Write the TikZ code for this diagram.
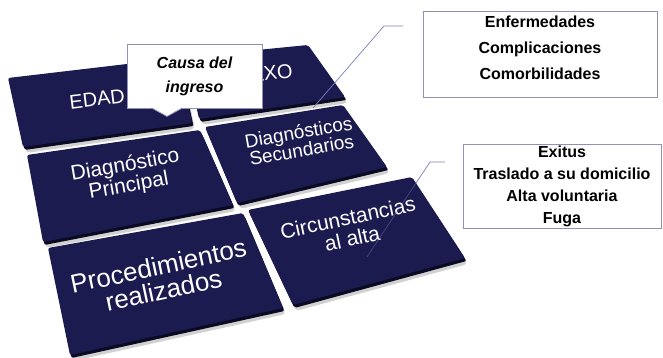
\documentclass[tikz,border=0pt]{standalone}
\usepackage{fontspec}
\setmainfont{Liberation Sans}
\usepackage{tikz}
\usetikzlibrary{calc,positioning}
\definecolor{tilenavy}{RGB}{27,27,80}
\definecolor{tileedge}{RGB}{10,10,34}
\definecolor{pointline}{RGB}{125,125,190}
\definecolor{boxline}{RGB}{145,145,180}

\begin{document}
\begin{tikzpicture}[x=1pt,y=-1pt,
    tile/.style={fill=tilenavy,rounded corners=2pt},
    tileside/.style={fill=tileedge,rounded corners=2pt},
    tileshadow/.style={fill=black,opacity=0.18,rounded corners=4pt},
    tiletext/.style={text=white,align=center,inner sep=0pt},
    infobox/.style={draw=boxline,line width=0.8pt,fill=white,inner sep=0pt},
    infotext/.style={align=center,inner sep=0pt,font=\bfseries\fontsize{16}{26}\selectfont},
    pointer/.style={draw=pointline,line width=0.7pt}]
  \useasboundingbox (0,0) rectangle (663,358);

  \coordinate (t1-a) at (8,78);    \coordinate (t1-b) at (178,58);
  \coordinate (t1-c) at (192,123); \coordinate (t1-d) at (23,147);
  \coordinate (t2-a) at (186,57);  \coordinate (t2-b) at (308,45);
  \coordinate (t2-c) at (345,97);  \coordinate (t2-d) at (199,119);
  \coordinate (t3-a) at (27,155);  \coordinate (t3-b) at (200,130);
  \coordinate (t3-c) at (233,205); \coordinate (t3-d) at (43,242);
  \coordinate (t4-a) at (205,127); \coordinate (t4-b) at (343,105);
  \coordinate (t4-c) at (387,167); \coordinate (t4-d) at (237,203);
  \coordinate (t5-a) at (48,248);  \coordinate (t5-b) at (243,213);
  \coordinate (t5-c) at (283,308); \coordinate (t5-d) at (70,355);
  \coordinate (t6-a) at (248,210); \coordinate (t6-b) at (412,177);
  \coordinate (t6-c) at (465,258); \coordinate (t6-d) at (293,305);

  \foreach \t in {1,...,6} {
    \fill[tileshadow] ([shift={(3,6)}]t\t-a) -- ([shift={(3,6)}]t\t-b) -- ([shift={(3,6)}]t\t-c) -- ([shift={(3,6)}]t\t-d) -- cycle;
    \fill[tileside] ([shift={(1.5,3)}]t\t-a) -- ([shift={(1.5,3)}]t\t-b) -- ([shift={(1.5,3)}]t\t-c) -- ([shift={(1.5,3)}]t\t-d) -- cycle;
    \fill[tile] (t\t-a) -- (t\t-b) -- (t\t-c) -- (t\t-d) -- cycle;
  }

  \node[tiletext,rotate=7,font=\fontsize{20}{20}\selectfont] (edad) at (97,99) {EDAD};
  \node[tiletext,rotate=7,font=\fontsize{20}{20}\selectfont] (sexo) at (265,74) {SEXO};
  \node[tiletext,rotate=10,font=\fontsize{21}{21}\selectfont] (diagp) at (127,176) {Diagnóstico\\Principal};
  \node[tiletext,rotate=10,font=\fontsize{19}{18}\selectfont] (diags) at (300,141) {Diagnósticos\\Secundarios};
  \node[tiletext,rotate=12,font=\fontsize{26}{25}\selectfont] (proc) at (161,278) {Procedimientos\\realizados};
  \node[tiletext,rotate=12,font=\fontsize{21}{21}\selectfont] (circ) at (350,228) {Circunstancias\\al alta};

  \coordinate (enf-end) at (403,26);
  \coordinate (enf-knee) at (384,26);
  \coordinate (enf-tip) at (313,108);
  \draw[pointer] (enf-end) -- (enf-knee) -- (enf-tip);
  \coordinate (alta-end) at (445,162);
  \coordinate (alta-knee) at (430,162);
  \coordinate (alta-edge) at (416,183);
  \coordinate (alta-tip) at (367,257);
  \draw[pointer] (alta-end) -- (alta-knee) -- (alta-edge);
  \draw[pointer,opacity=0.45] (alta-edge) -- (alta-tip);

  \node[infobox,minimum width=135,minimum height=64,align=center,
        font=\bfseries\itshape\fontsize{16}{24}\selectfont] (causa) at (194.5,76) {Causa del\\ingreso};
  \filldraw[draw=boxline,fill=white,line width=0.8pt]
    ($(causa.south)+(-43,-0.5)$) -- ($(causa.south)+(-27.5,8)$) -- ($(causa.south)+(-12,-0.5)$);

  \node[infobox,minimum width=234,minimum height=86] (enf) at (540,54) {};
  \node[infotext] (enftext) at ($(enf)+(0,-6)$) {Enfermedades\\Complicaciones\\Comorbilidades};
  \node[infobox,minimum width=198,minimum height=84,
        infotext,font=\bfseries\fontsize{16}{22}\selectfont] (exitus) at (562,186)
    {Exitus\\Traslado a su domicilio\\Alta voluntaria\\Fuga};
\end{tikzpicture}
\end{document}
